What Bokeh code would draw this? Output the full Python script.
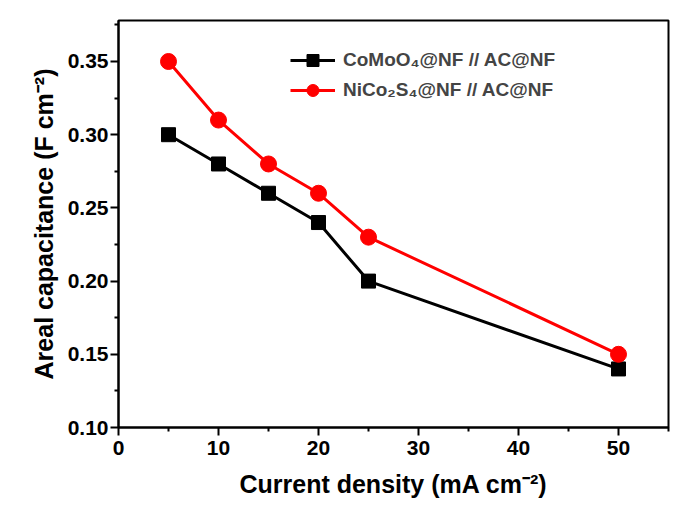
from bokeh.plotting import figure
from bokeh.models import FixedTicker, Range1d, Legend, LegendItem, NumeralTickFormatter
from bokeh.embed import file_html
from bokeh.resources import INLINE

current_density = [5, 10, 15, 20, 25, 50]
como_cap = [0.30, 0.28, 0.26, 0.24, 0.20, 0.14]
nico_cap = [0.35, 0.31, 0.28, 0.26, 0.23, 0.15]
como_label = "CoMoO\u2084@NF // AC@NF"
nico_label = "NiCo\u2082S\u2084@NF // AC@NF"
x_ticks = [0, 10, 20, 30, 40, 50]
y_ticks = [0.10, 0.15, 0.20, 0.25, 0.30, 0.35]

FONT = "Liberation Sans"

p = figure(width=673, height=514, output_backend="svg", toolbar_location=None,
           x_range=Range1d(0, 55), y_range=Range1d(0.10, 0.378),
           min_border_left=118, min_border_right=5, min_border_top=20, min_border_bottom=87)
p.grid.visible = False
p.outline_line_color = "black"
p.outline_line_width = 2
p.background_fill_color = "white"
p.border_fill_color = "white"

p.xaxis.ticker = FixedTicker(ticks=x_ticks, minor_ticks=[5, 15, 25, 35, 45, 55])
p.yaxis.ticker = FixedTicker(ticks=y_ticks, minor_ticks=[0.125, 0.175, 0.225, 0.275, 0.325, 0.375])
p.yaxis.formatter = NumeralTickFormatter(format="0.00")

for ax in (p.xaxis[0], p.yaxis[0]):
    ax.axis_line_width = 2
    ax.major_tick_line_width = 2
    ax.minor_tick_line_width = 2
    ax.major_tick_out = 8
    ax.major_tick_in = 0
    ax.minor_tick_out = 4
    ax.minor_tick_in = 0
    ax.major_label_text_font = FONT
    ax.major_label_text_font_style = "bold"
    ax.major_label_text_font_size = "21px"
    ax.major_label_text_color = "black"
    ax.axis_label_text_font = FONT
    ax.axis_label_text_font_style = "bold"
    ax.axis_label_text_font_size = "25px"
    ax.axis_label_text_color = "black"

p.xaxis.axis_label = "Current density (mA cm\u207b\u00b2)"
p.yaxis.axis_label = "Areal capacitance (F cm\u207b\u00b2)"
p.xaxis.axis_label_standoff = 12
p.yaxis.axis_label_standoff = 7
p.xaxis.major_label_standoff = 5
p.yaxis.major_label_standoff = 2

l1 = p.line(current_density, como_cap, line_color="black", line_width=3)
m1 = p.scatter(current_density, como_cap, marker="square", size=14, fill_color="black", line_color="black")
l2 = p.line(current_density, nico_cap, line_color="red", line_width=3)
m2 = p.scatter(current_density, nico_cap, marker="circle", size=16, fill_color="red", line_color="red")

legend = Legend(items=[LegendItem(label=como_label, renderers=[l1, m1]),
                       LegendItem(label=nico_label, renderers=[l2, m2])],
                location=(172, 322), border_line_color=None, background_fill_alpha=0,
                label_text_font=FONT, label_text_font_style="bold", label_text_font_size="19px",
                glyph_width=45, glyph_height=30, spacing=0, label_standoff=8)
p.add_layout(legend, "center")

open("out.html", "w").write(file_html(p, INLINE))
